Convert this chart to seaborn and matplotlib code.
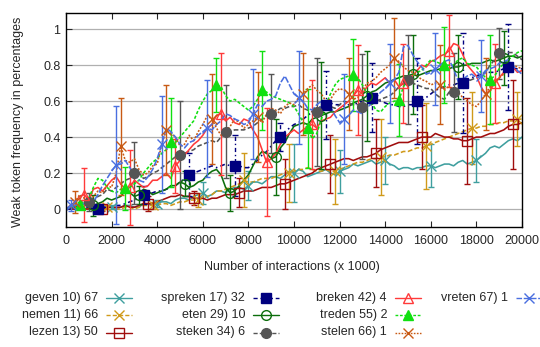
import matplotlib
matplotlib.use("Agg")
import matplotlib.pyplot as plt
from matplotlib.lines import Line2D
import seaborn as sns

# x axis: number of interactions (x 1000), one sample every 200
interactions = list(range(0, 20001, 200))

# mean weak token frequency per verb
geven = [0.00, 0.00, 0.01, 0.02, 0.00, 0.01, 0.01, 0.00, 0.00, 0.02,
         0.01, 0.00, 0.01, 0.02, 0.02, 0.01, 0.01, 0.03, 0.03, 0.02,
         0.03, 0.04, 0.04, 0.03, 0.05, 0.06, 0.06, 0.05, 0.07, 0.08,
         0.09, 0.07, 0.08, 0.10, 0.10, 0.09, 0.11, 0.12, 0.12, 0.11,
         0.13, 0.15, 0.15, 0.14, 0.16, 0.18, 0.18, 0.17, 0.19, 0.21,
         0.20, 0.22, 0.21, 0.18, 0.19, 0.20, 0.21, 0.22, 0.20, 0.19,
         0.21, 0.22, 0.23, 0.25, 0.24, 0.25, 0.26, 0.27, 0.25, 0.26,
         0.27, 0.25, 0.24, 0.22, 0.23, 0.23, 0.22, 0.23, 0.23, 0.24,
         0.24, 0.23, 0.24, 0.25, 0.25, 0.24, 0.26, 0.27, 0.25, 0.26,
         0.27, 0.29, 0.31, 0.34, 0.35, 0.34, 0.36, 0.38, 0.39, 0.38,
         0.40]
nemen = [0.00, 0.00, 0.00, 0.01, 0.01, 0.00, 0.00, 0.00, 0.00, 0.01,
         0.01, 0.00, 0.00, 0.01, 0.01, 0.00, 0.01, 0.02, 0.02, 0.02,
         0.02, 0.03, 0.03, 0.02, 0.03, 0.04, 0.04, 0.05, 0.05, 0.05,
         0.06, 0.07, 0.08, 0.10, 0.10, 0.11, 0.12, 0.13, 0.14, 0.16,
         0.15, 0.15, 0.16, 0.17, 0.17, 0.17, 0.18, 0.19, 0.20, 0.20,
         0.21, 0.22, 0.22, 0.23, 0.22, 0.21, 0.21, 0.22, 0.21, 0.21,
         0.22, 0.23, 0.24, 0.25, 0.26, 0.26, 0.27, 0.28, 0.28, 0.29,
         0.29, 0.30, 0.30, 0.31, 0.32, 0.32, 0.33, 0.34, 0.34, 0.35,
         0.36, 0.37, 0.38, 0.39, 0.40, 0.41, 0.42, 0.43, 0.44, 0.45,
         0.45, 0.46, 0.46, 0.47, 0.47, 0.48, 0.48, 0.49, 0.49, 0.50,
         0.50]
lezen = [0.00, 0.00, 0.00, 0.00, 0.00, 0.00, 0.00, 0.00, 0.00, 0.01,
         0.01, 0.01, 0.01, 0.02, 0.01, 0.01, 0.02, 0.03, 0.03, 0.03,
         0.04, 0.05, 0.06, 0.07, 0.07, 0.08, 0.07, 0.07, 0.06, 0.06,
         0.06, 0.05, 0.06, 0.06, 0.07, 0.08, 0.08, 0.08, 0.09, 0.10,
         0.10, 0.10, 0.11, 0.12, 0.12, 0.12, 0.13, 0.14, 0.14, 0.15,
         0.16, 0.17, 0.18, 0.19, 0.20, 0.22, 0.23, 0.24, 0.25, 0.26,
         0.27, 0.28, 0.28, 0.27, 0.28, 0.29, 0.29, 0.30, 0.31, 0.33,
         0.34, 0.35, 0.36, 0.37, 0.37, 0.37, 0.38, 0.39, 0.40, 0.40,
         0.40, 0.42, 0.41, 0.40, 0.40, 0.39, 0.39, 0.38, 0.38, 0.39,
         0.40, 0.40, 0.41, 0.42, 0.42, 0.43, 0.44, 0.46, 0.47, 0.47,
         0.48]
spreken = [0.00, 0.00, 0.00, 0.01, 0.01, 0.01, 0.00, 0.00, 0.01, 0.01,
           0.01, 0.02, 0.02, 0.03, 0.04, 0.05, 0.06, 0.08, 0.08, 0.09,
           0.10, 0.10, 0.11, 0.12, 0.13, 0.15, 0.17, 0.19, 0.20, 0.21,
           0.22, 0.23, 0.24, 0.23, 0.24, 0.25, 0.24, 0.24, 0.24, 0.23,
           0.23, 0.25, 0.27, 0.30, 0.32, 0.35, 0.38, 0.40, 0.43, 0.45,
           0.47, 0.48, 0.50, 0.52, 0.54, 0.56, 0.57, 0.58, 0.59, 0.58,
           0.58, 0.57, 0.58, 0.58, 0.59, 0.60, 0.61, 0.62, 0.61, 0.60,
           0.59, 0.58, 0.58, 0.57, 0.57, 0.58, 0.58, 0.60, 0.60, 0.62,
           0.64, 0.66, 0.67, 0.68, 0.69, 0.69, 0.70, 0.70, 0.71, 0.73,
           0.74, 0.75, 0.76, 0.76, 0.76, 0.77, 0.78, 0.79, 0.78, 0.78,
           0.78]
eten = [0.00, 0.01, 0.01, 0.03, 0.03, 0.02, 0.02, 0.03, 0.04, 0.06,
        0.05, 0.06, 0.07, 0.10, 0.09, 0.07, 0.08, 0.11, 0.10, 0.08,
        0.09, 0.10, 0.11, 0.13, 0.13, 0.15, 0.14, 0.12, 0.13, 0.15,
        0.16, 0.19, 0.21, 0.22, 0.19, 0.12, 0.09, 0.10, 0.13, 0.16,
        0.19, 0.24, 0.29, 0.32, 0.31, 0.28, 0.29, 0.34, 0.37, 0.42,
        0.46, 0.47, 0.48, 0.47, 0.50, 0.51, 0.52, 0.53, 0.54, 0.54,
        0.55, 0.56, 0.57, 0.59, 0.60, 0.61, 0.63, 0.65, 0.66, 0.68,
        0.70, 0.71, 0.72, 0.73, 0.74, 0.74, 0.75, 0.74, 0.75, 0.76,
        0.77, 0.77, 0.78, 0.77, 0.78, 0.79, 0.79, 0.80, 0.80, 0.81,
        0.81, 0.81, 0.82, 0.83, 0.82, 0.83, 0.84, 0.85, 0.85, 0.84,
        0.85]
steken = [0.00, 0.01, 0.02, 0.04, 0.05, 0.04, 0.04, 0.07, 0.08, 0.11,
          0.10, 0.12, 0.14, 0.16, 0.17, 0.20, 0.20, 0.17, 0.18, 0.20,
          0.21, 0.23, 0.25, 0.27, 0.29, 0.30, 0.31, 0.32, 0.33, 0.35,
          0.36, 0.37, 0.38, 0.37, 0.40, 0.43, 0.43, 0.44, 0.44, 0.44,
          0.45, 0.46, 0.48, 0.50, 0.52, 0.53, 0.54, 0.56, 0.56, 0.57,
          0.57, 0.58, 0.56, 0.55, 0.54, 0.54, 0.55, 0.56, 0.57, 0.56,
          0.58, 0.60, 0.59, 0.58, 0.58, 0.57, 0.57, 0.58, 0.60, 0.61,
          0.62, 0.63, 0.65, 0.68, 0.70, 0.72, 0.70, 0.69, 0.68, 0.67,
          0.67, 0.64, 0.62, 0.61, 0.65, 0.65, 0.67, 0.69, 0.71, 0.72,
          0.73, 0.74, 0.76, 0.80, 0.83, 0.865, 0.86, 0.87, 0.87, 0.85,
          0.83]
breken = [0.00, 0.02, 0.04, 0.07, 0.08, 0.05, 0.11, 0.12, 0.10, 0.13,
          0.16, 0.18, 0.14, 0.11, 0.12, 0.16, 0.14, 0.12, 0.13, 0.16,
          0.16, 0.18, 0.20, 0.17, 0.24, 0.27, 0.30, 0.33, 0.36, 0.38,
          0.41, 0.45, 0.47, 0.52, 0.53, 0.49, 0.51, 0.48, 0.47, 0.50,
          0.49, 0.44, 0.40, 0.33, 0.26, 0.28, 0.31, 0.36, 0.40, 0.42,
          0.44, 0.42, 0.44, 0.46, 0.47, 0.45, 0.49, 0.50, 0.51, 0.54,
          0.56, 0.58, 0.60, 0.63, 0.66, 0.64, 0.68, 0.70, 0.69, 0.71,
          0.73, 0.70, 0.72, 0.68, 0.70, 0.73, 0.74, 0.77, 0.80, 0.79,
          0.82, 0.83, 0.85, 0.86, 0.88, 0.92, 0.91, 0.86, 0.80, 0.77,
          0.74, 0.68, 0.64, 0.66, 0.70, 0.73, 0.76, 0.78, 0.79, 0.76,
          0.77]
treden = [0.00, 0.01, 0.02, 0.02, 0.03, 0.06, 0.12, 0.17, 0.16, 0.12,
          0.10, 0.09, 0.11, 0.115, 0.12, 0.14, 0.16, 0.20, 0.23, 0.26,
          0.28, 0.31, 0.33, 0.37, 0.37, 0.40, 0.43, 0.46, 0.49, 0.55,
          0.60, 0.64, 0.66, 0.69, 0.68, 0.63, 0.60, 0.61, 0.59, 0.57,
          0.55, 0.57, 0.61, 0.66, 0.65, 0.63, 0.62, 0.61, 0.60, 0.59,
          0.57, 0.53, 0.48, 0.45, 0.39, 0.42, 0.50, 0.58, 0.64, 0.69,
          0.72, 0.73, 0.74, 0.745, 0.73, 0.69, 0.64, 0.59, 0.55, 0.54,
          0.57, 0.59, 0.60, 0.605, 0.68, 0.72, 0.74, 0.76, 0.77, 0.80,
          0.83, 0.82, 0.81, 0.80, 0.80, 0.80, 0.83, 0.84, 0.81, 0.80,
          0.79, 0.76, 0.73, 0.72, 0.74, 0.78, 0.81, 0.83, 0.85, 0.87,
          0.88]
stelen = [0.00, 0.02, 0.04, 0.08, 0.06, 0.05, 0.07, 0.10, 0.09, 0.13,
          0.12, 0.20, 0.35, 0.27, 0.26, 0.28, 0.22, 0.19, 0.20, 0.24,
          0.25, 0.36, 0.44, 0.42, 0.40, 0.35, 0.36, 0.41, 0.38, 0.43,
          0.47, 0.52, 0.50, 0.45, 0.41, 0.43, 0.46, 0.50, 0.48, 0.45,
          0.47, 0.49, 0.51, 0.48, 0.53, 0.56, 0.55, 0.53, 0.57, 0.59,
          0.58, 0.62, 0.64, 0.67, 0.69, 0.66, 0.64, 0.60, 0.61, 0.65,
          0.67, 0.66, 0.64, 0.61, 0.62, 0.66, 0.70, 0.71, 0.73, 0.76,
          0.78, 0.80, 0.84, 0.82, 0.79, 0.77, 0.76, 0.74, 0.72, 0.71,
          0.69, 0.70, 0.69, 0.67, 0.68, 0.66, 0.65, 0.62, 0.60, 0.58,
          0.57, 0.60, 0.64, 0.68, 0.70, 0.73, 0.75, 0.78, 0.80, 0.79,
          0.78]
vreten = [0.00, 0.02, 0.02, 0.03, 0.03, 0.05, 0.04, 0.08, 0.13, 0.17,
          0.21, 0.245, 0.25, 0.27, 0.23, 0.19, 0.16, 0.15, 0.18, 0.22,
          0.28, 0.36, 0.45, 0.43, 0.40, 0.36, 0.34, 0.37, 0.38, 0.41,
          0.43, 0.45, 0.44, 0.47, 0.49, 0.53, 0.52, 0.50, 0.49, 0.47,
          0.48, 0.53, 0.58, 0.57, 0.60, 0.61, 0.63, 0.70, 0.74, 0.69,
          0.64, 0.62, 0.60, 0.56, 0.55, 0.58, 0.60, 0.59, 0.57, 0.52,
          0.48, 0.50, 0.52, 0.55, 0.54, 0.53, 0.56, 0.59, 0.62, 0.65,
          0.67, 0.70, 0.72, 0.76, 0.90, 0.91, 0.86, 0.82, 0.79, 0.75,
          0.76, 0.78, 0.80, 0.82, 0.83, 0.78, 0.71, 0.72, 0.74, 0.75,
          0.73, 0.74, 0.77, 0.78, 0.79, 0.81, 0.82, 0.83, 0.80, 0.77,
          0.75]

# standard deviation at every 2000th interaction (error bars)
geven_err = [0.01, 0.02, 0.06, 0.08, 0.16, 0.12, 0.13, 0.12, 0.12]
nemen_err = [0.01, 0.02, 0.04, 0.15, 0.16, 0.18, 0.21, 0.24, 0.20, 0.15]
lezen_err = [0.01, 0.04, 0.04, 0.08, 0.14, 0.16, 0.19, 0.18, 0.24, 0.25]
spreken_err = [0.02, 0.05, 0.12, 0.17, 0.08, 0.19, 0.19, 0.24, 0.28, 0.24]
eten_err = [0.06, 0.05, 0.07, 0.10, 0.21, 0.30, 0.25, 0.22, 0.18, 0.15]
steken_err = [0.05, 0.17, 0.30, 0.26, 0.22, 0.30, 0.29, 0.25, 0.22, 0.14]
breken_err = [0.15, 0.21, 0.15, 0.34, 0.30, 0.25, 0.25, 0.22, 0.20, 0.22]
treden_err = [0.02, 0.12, 0.25, 0.15, 0.22, 0.22, 0.20, 0.20, 0.21, 0.25]
stelen_err = [0.06, 0.27, 0.25, 0.25, 0.25, 0.23, 0.20, 0.22, 0.22, 0.20]
vreten_err = [0.03, 0.33, 0.27, 0.27, 0.25, 0.26, 0.25, 0.22, 0.20, 0.20]

labels = ["geven 10) 67", "nemen 11) 66", "lezen 13) 50",
          "spreken 17) 32", "eten 29) 10", "steken 34) 6",
          "breken 42) 4", "treden 55) 2", "stelen 66) 1",
          "vreten 67) 1"]

x_ticks = [0, 2000, 4000, 6000, 8000, 10000, 12000, 14000, 16000, 18000, 20000]
y_ticks = [0, 0.2, 0.4, 0.6, 0.8, 1]
y_tick_labels = ["0", "0.2", "0.4", "0.6", "0.8", "1"]

# (means, errors, first error bar position, colour, line dash, bar dash, marker, filled)
series = [
    (geven, geven_err, 2000, "#3f9f9f", "-", "-", "x", True),
    (nemen, nemen_err, 1800, "#d09a1a", (0, (3, 1.5)), "-", "x", True),
    (lezen, lezen_err, 1600, "#a00d0d", "-", "-", "s", False),
    (spreken, spreken_err, 1400, "#00007f", (0, (3, 2, 1, 2)), (0, (3, 2, 1, 2)), "s", True),
    (eten, eten_err, 1200, "#0c6e0c", "-", "-", "o", False),
    (steken, steken_err, 1000, "#555555", (0, (3, 1.5)), "-", "o", True),
    (breken, breken_err, 800, "#ff3a3a", "-", "-", "^", False),
    (treden, treden_err, 600, "#10e010", (0, (2, 1.2)), "-", "^", True),
    (stelen, stelen_err, 400, "#c85a14", (0, (1.2, 1)), "-", "x", True),
    (vreten, vreten_err, 200, "#4a6fe0", (0, (4, 1.2)), "-", "x", True),
]

sns.set_style("white")
plt.rcParams["font.family"] = ["Liberation Sans", "DejaVu Sans"]
plt.rcParams["font.size"] = 9

W, H = 540, 347
fig = plt.figure(figsize=(W / 100, H / 100), dpi=100)
ax = fig.add_axes([66 / W, 1 - 227 / H, 456 / W, 214 / H])


def marker_kw(marker, color, filled):
    size = {"x": 7.0, "s": 6.5, "o": 7.0, "^": 7.0}[marker]
    return dict(marker=marker, ms=size, mew=1.0, mec=color,
                mfc=(color if filled else "none"))


step = interactions[1] - interactions[0]
for vals, errs, start, color, ls, bar_ls, marker, filled in series:
    sns.lineplot(x=interactions, y=vals, ax=ax, color=color, linestyle=ls,
                 linewidth=1.15, legend=False)
    idx = list(range(start // step, len(interactions) - 1, 2000 // step))[:len(errs)]
    bar_x = [interactions[i] for i in idx]
    bar_y = [vals[i] for i in idx]
    eb = ax.errorbar(bar_x, bar_y, yerr=errs, linestyle="none", color=color,
                     elinewidth=1.0, capsize=2.5, capthick=1.0,
                     **marker_kw(marker, color, filled))
    for coll in eb.lines[2]:
        coll.set_linestyle(bar_ls)

ax.set_xlim(0, 20000)
ax.set_ylim(-0.1, 1.09)
ax.set_xticks(x_ticks)
ax.set_xticklabels([str(t) for t in x_ticks])
ax.set_yticks(y_ticks)
ax.set_yticklabels(y_tick_labels)
ax.grid(axis="y", color="#b0b0b0", linewidth=0.9)
ax.grid(axis="x", visible=False)
ax.set_axisbelow(True)
ax.tick_params(axis="x", direction="in", length=4, width=0.8, top=True,
               bottom=True, pad=6, labelsize=9)
ax.tick_params(axis="y", direction="in", length=4, width=0.8, left=True,
               right=False, pad=4, labelsize=9)
for sp in ax.spines.values():
    sp.set_color("black")
    sp.set_linewidth(1.0)

ax.set_xlabel("Number of interactions (x 1000)", fontsize=9)
ax.set_ylabel("Weak token frequency in percentages", fontsize=9)
ax.xaxis.set_label_coords(0.495, -0.16)
ax.yaxis.set_label_coords(-0.092, 0.49)

# key below the plot: label right-aligned, then a line sample with its marker
label_right = [98, 245, 387, 508]
row_y = [297.5, 315, 332.5]
for i, (lab, s) in enumerate(zip(labels, series)):
    col, row = divmod(i, 3)
    _, _, _, color, ls, _, marker, filled = s
    xr = label_right[col]
    yy = 1 - row_y[row] / H
    fig.text(xr / W, yy, lab, ha="right", va="center", fontsize=9)
    x0, x1 = (xr + 8) / W, (xr + 34) / W
    fig.add_artist(Line2D([x0, x1], [yy, yy], transform=fig.transFigure,
                          color=color, linestyle=ls, linewidth=1.0))
    fig.add_artist(Line2D([(x0 + x1) / 2], [yy], transform=fig.transFigure,
                          linestyle="none", color=color,
                          **marker_kw(marker, color, filled)))

fig.savefig("out.png", dpi=100)
